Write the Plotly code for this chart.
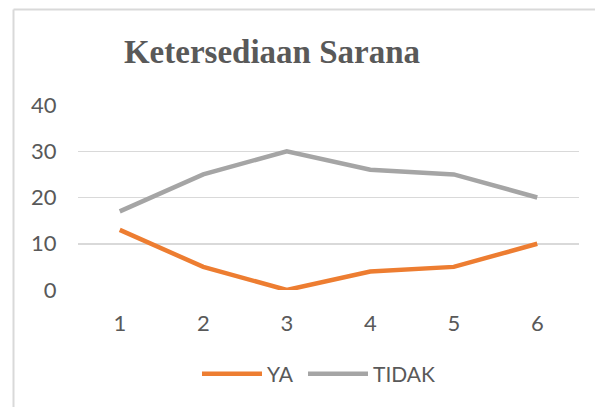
import plotly.graph_objects as go

categories = ["1", "2", "3", "4", "5", "6"]
ya_values = [13, 5, 0, 4, 5, 10]
tidak_values = [17, 25, 30, 26, 25, 20]
y_ticks = [0, 10, 20, 30, 40]

TEXT = "#595959"
FONT = "Lato, Open Sans, sans-serif"

fig = go.Figure()
fig.add_trace(go.Scatter(x=categories, y=ya_values, mode="lines", name="YA",
                         line=dict(color="#ED7D31", width=4.5), legend="legend"))
fig.add_trace(go.Scatter(x=categories, y=tidak_values, mode="lines", name="TIDAK",
                         line=dict(color="#A5A5A5", width=4.5), legend="legend2"))

L, R, T, B = 78, 16, 105, 117
W, H = 595, 407
pw = W - L - R
ph = H - T - B

def px_x(x):
    return (x - L) / pw

def px_y(y):
    return (H - B - y) / ph

legend_common = dict(orientation="h", y=px_y(374), xanchor="left", yanchor="middle",
                     font=dict(family=FONT, size=21, color=TEXT), itemwidth=60,
                     bgcolor="rgba(0,0,0,0)")

fig.update_layout(
    width=W, height=H,
    margin=dict(l=L, r=R, t=T, b=B),
    paper_bgcolor="white", plot_bgcolor="white",
    font=dict(family=FONT, color=TEXT, size=21),
    title=dict(text="<b>Ketersediaan Sarana</b>",
               font=dict(family="Liberation Serif, Times New Roman, serif", size=33, color=TEXT),
               xref="container", yref="container", x=272 / W, y=1 - 51 / H,
               xanchor="center", yanchor="middle"),
    showlegend=True,
    legend=dict(x=px_x(197), **legend_common),
    legend2=dict(x=px_x(303), **legend_common),
    xaxis=dict(type="category", range=[-0.5, 5.5], showgrid=False, zeroline=False,
               showline=False, ticks="outside", ticklen=14, tickcolor="rgba(0,0,0,0)",
               tickfont=dict(family=FONT, size=22, color=TEXT), fixedrange=True),
    yaxis=dict(range=[0, 40], tickvals=y_ticks, showgrid=True, gridcolor="#D9D9D9",
               gridwidth=1.5, zeroline=False, showline=False,
               ticks="outside", ticklen=16, tickcolor="rgba(0,0,0,0)",
               tickfont=dict(family=FONT, size=22, color=TEXT), fixedrange=True),
)

# chart area border (top and left edges visible in the reference)
fig.add_shape(type="line", xref="paper", yref="paper",
              x0=px_x(13.5), x1=px_x(600), y0=px_y(9.5), y1=px_y(9.5),
              line=dict(color="#D9D9D9", width=2))
fig.add_shape(type="line", xref="paper", yref="paper",
              x0=px_x(13.5), x1=px_x(13.5), y0=px_y(9.5), y1=px_y(410),
              line=dict(color="#D9D9D9", width=2))

fig.write_html("out.html", config={"displayModeBar": False, "staticPlot": True},
               post_script="document.body.style.margin='0px';")
